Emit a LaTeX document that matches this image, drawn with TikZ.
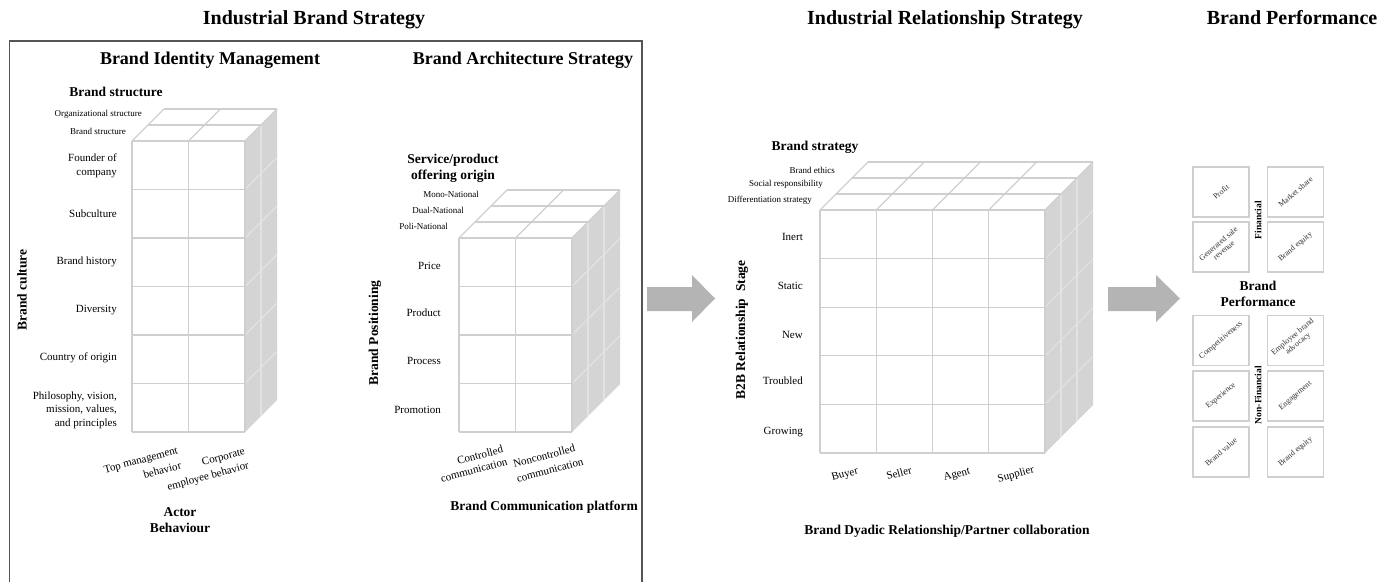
\documentclass[tikz,border=0pt]{standalone}
\usepackage{fontspec}
\setmainfont{Liberation Serif}
\definecolor{gridc}{HTML}{CFCFCF}
\definecolor{sidec}{HTML}{D4D4D4}
\definecolor{sidelc}{HTML}{E2E2E2}
\definecolor{framec}{HTML}{555555}
\definecolor{arrowc}{HTML}{B4B4B4}
\tikzset{
  gridline/.style={draw=gridc, line width=1.1pt},
  sideline/.style={draw=sidelc, line width=1.1pt},
  ttl/.style={font=\fontsize{20}{24}\selectfont\bfseries, inner sep=0pt, anchor=base},
  subttl/.style={font=\fontsize{18}{21}\selectfont\bfseries, inner sep=0pt, anchor=base},
  lbl/.style={font=\fontsize{13.5}{16}\selectfont\bfseries, align=center, inner sep=0pt},
  rowlbl/.style={font=\fontsize{11}{13.5}\selectfont, align=right, anchor=east, inner sep=0pt},
  smalllbl/.style={font=\fontsize{9}{10}\selectfont, anchor=east, inner sep=0pt},
  collbl/.style={font=\fontsize{11}{12.5}\selectfont, rotate=15, inner sep=0pt},
  pbox/.style={draw=gridc, line width=1.1pt, minimum width=56pt, minimum height=50pt, inner sep=0pt},
  ptxt/.style={font=\fontsize{8}{8.5}\selectfont, rotate=40, align=center, text=black!80, inner sep=0pt},
  vlbl/.style={font=\fontsize{9.5}{10}\selectfont\bfseries, rotate=90, inner sep=0pt},
}
% #1 x0, #2 y0, #3 ncols, #4 colw, #5 nrows, #6 rowh, #7 nlayers
\newcommand\mycube[7]{%
  \pgfmathsetmacro\cxa{#1+#3*#4}%
  \pgfmathsetmacro\cyb{#2+#5*#6}%
  \pgfmathsetmacro\cd{#7*16}%
  \pgfmathtruncatemacro\nlm{#7-1}%
  \pgfmathtruncatemacro\nrm{#5-1}%
  \fill[sidec] (\cxa,#2) -- (\cxa+\cd,#2-\cd) -- (\cxa+\cd,\cyb-\cd) -- (\cxa,\cyb) -- cycle;
  \foreach \k in {1,...,\nlm} {\draw[sideline] (\cxa+16*\k,#2-16*\k) -- (\cxa+16*\k,\cyb-16*\k);}
  \foreach \i in {1,...,\nrm} {\draw[sideline] (\cxa,#2+\i*#6) -- (\cxa+\cd,#2+\i*#6-\cd);}
  \foreach \k in {0,...,#7} {\draw[gridline] (#1+16*\k,#2-16*\k) -- (\cxa+16*\k,#2-16*\k);}
  \foreach \j in {0,...,#3} {\draw[gridline] (#1+\j*#4,#2) -- (#1+\j*#4+\cd,#2-\cd);}
  \fill[white] (#1,#2) rectangle (\cxa,\cyb);
  \foreach \i in {0,...,#5} {\draw[gridline] (#1,#2+\i*#6) -- (\cxa,#2+\i*#6);}
  \foreach \j in {0,...,#3} {\draw[gridline] (#1+\j*#4,#2) -- (#1+\j*#4,\cyb);}
}
\begin{document}
\begin{tikzpicture}[x=1pt,y=-1pt]
\useasboundingbox (0,0) rectangle (1383,581);
\fill[white] (0,0) rectangle (1383,581);

% ---------- frame and titles ----------
\draw[framec, line width=1.5pt] (9.5,590) -- (9.5,41) -- (642,41) -- (642,590);
\node[ttl] (t1) at (314,24) {Industrial Brand Strategy};
\node[ttl] (t2) at (945,24) {Industrial Relationship Strategy};
\node[ttl] (t3) at (1292,24) {Brand Performance};
\node[subttl] (s1) at (210,64) {Brand Identity Management};
\node[subttl] (s2) at (523,64) {Brand Architecture Strategy};

% ---------- left cube ----------
\mycube{132}{141}{2}{56.5}{6}{48.5}{2}
\node[lbl] (bs) at (116,92) {Brand structure};
\node[smalllbl] (os) at (142,114) {Organizational structure};
\node[smalllbl] (bs2) at (126,131) {Brand structure};
\node[rowlbl] (r1) at (117,166) {Founder of\\company};
\node[rowlbl] (r2) at (117,214) {Subculture};
\node[rowlbl] (r3) at (117,262) {Brand history};
\node[rowlbl] (r4) at (117,310) {Diversity};
\node[rowlbl] (r5) at (117,358) {Country of origin};
\node[rowlbl] (r6) at (117,410) {Philosophy, vision,\\mission, values,\\and principles};
\node[lbl, rotate=90] (bc) at (22,290) {Brand culture};
\node[collbl, anchor=east] (c1a) at (178,451) {Top management};
\node[collbl, anchor=east] (c1b) at (181,465) {behavior};
\node[collbl, anchor=east] (c2a) at (245,452) {Corporate};
\node[collbl, anchor=east] (c2b) at (249,466) {employee behavior};
\node[lbl] (ab) at (180,520) {Actor\\Behaviour};

% ---------- middle cube ----------
\mycube{459}{238}{2}{56.5}{4}{48.5}{3}
\node[lbl] (sp) at (453,168) {Service/product\\offering origin};
\node[smalllbl] (m1) at (479,194) {Mono-National};
\node[smalllbl] (m2) at (464,210) {Dual-National};
\node[smalllbl] (m3) at (448,226) {Poli-National};
\node[rowlbl] (q1) at (441,266) {Price};
\node[rowlbl] (q2) at (441,313) {Product};
\node[rowlbl] (q3) at (441,361) {Process};
\node[rowlbl] (q4) at (441,410) {Promotion};
\node[lbl, rotate=90] (bp) at (375,333) {Brand Positioning};
\node[collbl] (d1a) at (480,455) {Controlled};
\node[collbl] (d1b) at (474,470) {communication};
\node[collbl] (d2a) at (544,456) {Noncontrolled};
\node[collbl] (d2b) at (550,470) {communication};
\node[lbl] (bcp) at (544,507) {Brand Communication platform};

% ---------- arrows ----------
\fill[arrowc] (647,287) -- (692,287) -- (692,275) -- (715,298.5) -- (692,322) -- (692,311) -- (647,311) -- cycle;
\fill[arrowc] (1108,287) -- (1156,287) -- (1156,275) -- (1180,298.5) -- (1156,322) -- (1156,311) -- (1108,311) -- cycle;

% ---------- right cube ----------
\mycube{820}{210}{4}{56.25}{5}{48.6}{3}
\node[lbl] (bst) at (815,147) {Brand strategy};
\node[smalllbl] (e1) at (835,170) {Brand ethics};
\node[smalllbl] (e2) at (823,184) {Social responsibility};
\node[smalllbl] (e3) at (812,200) {Differentiation strategy};
\node[rowlbl] (g1) at (803,237) {Inert};
\node[rowlbl] (g2) at (803,286) {Static};
\node[rowlbl] (g3) at (803,335) {New};
\node[rowlbl] (g4) at (803,381) {Troubled};
\node[rowlbl] (g5) at (803,432) {Growing};
\node[lbl, rotate=90] (b2b) at (742,330) {B2B Relationship\enspace Stage};
\node[collbl] (h1) at (845,475) {Buyer};
\node[collbl] (h2) at (899,473) {Seller};
\node[collbl] (h3) at (957,475) {Agent};
\node[collbl] (h4) at (1016,475) {Supplier};
\node[lbl] (bdr) at (947,531) {Brand Dyadic Relationship/Partner collaboration};

% ---------- performance panel ----------
\node[pbox] (p1) at (1221,192) {};
\node[pbox] (p2) at (1295.5,192) {};
\node[pbox] (p3) at (1221,247) {};
\node[pbox] (p4) at (1295.5,247) {};
\node[pbox] (p5) at (1221,340.5) {};
\node[pbox] (p6) at (1295.5,340.5) {};
\node[pbox] (p7) at (1221,396) {};
\node[pbox] (p8) at (1295.5,396) {};
\node[pbox] (p9) at (1221,452) {};
\node[pbox] (p10) at (1295.5,452) {};
\node[ptxt] (pt1) at (p1) {Profit};
\node[ptxt] (pt2) at (p2) {Market share};
\node[ptxt] (pt3) at (p3) {Generated sale\\revenue};
\node[ptxt] (pt4) at (p4) {Brand equity};
\node[ptxt] (pt5) at (p5) {Competitiveness};
\node[ptxt] (pt6) at (p6) {Employee brand\\advocacy};
\node[ptxt] (pt7) at (p7) {Experience};
\node[ptxt] (pt8) at (p8) {Engagement};
\node[ptxt] (pt9) at (p9) {Brand value};
\node[ptxt] (pt10) at (p10) {Brand equity};
\node[vlbl] (fin) at (1258,220) {Financial};
\node[vlbl] (nfin) at (1258,395) {Non-Financial};
\node[lbl] (bperf) at (1258,294) {Brand\\Performance};
\end{tikzpicture}
\end{document}
